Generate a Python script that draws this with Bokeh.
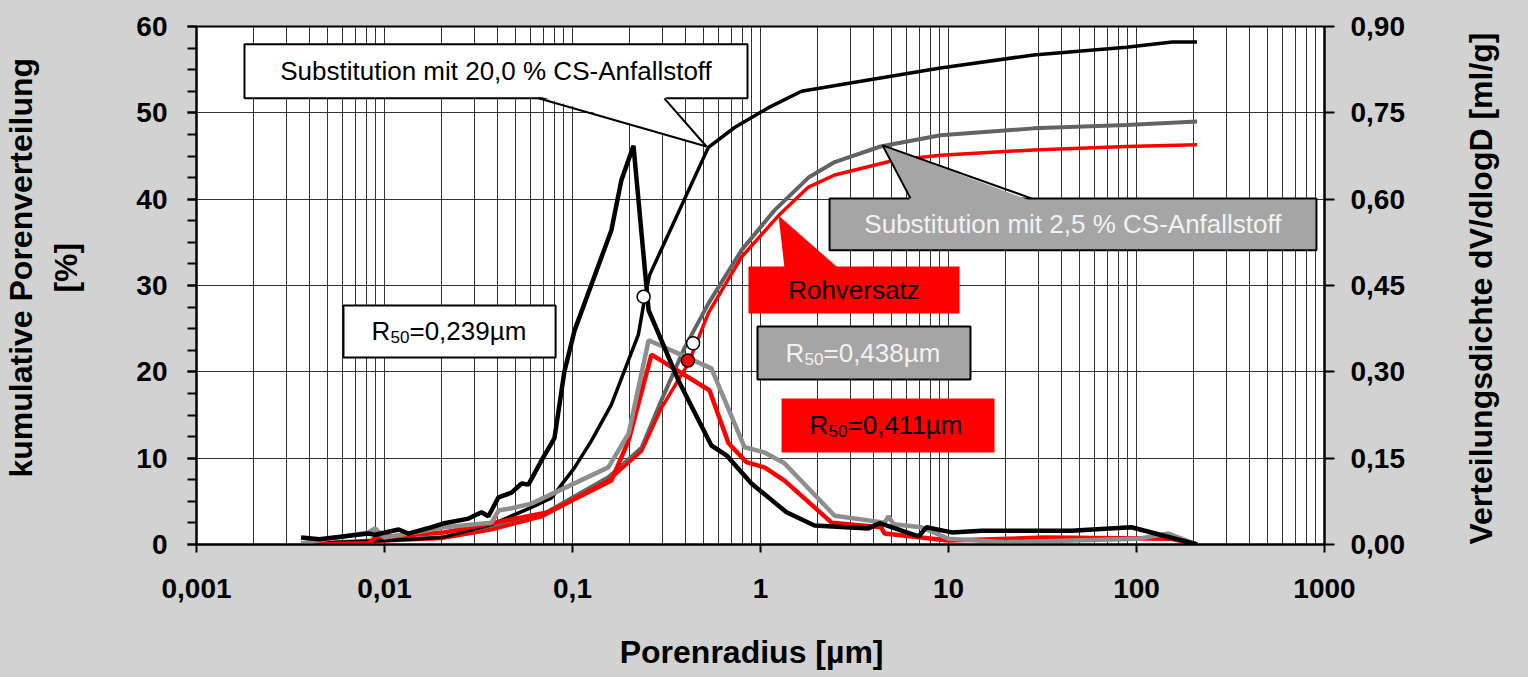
import math
from bokeh.plotting import figure
from bokeh.models import (Range1d, LinearAxis, FixedTicker, SingleIntervalTicker,
                          CustomJSTickFormatter)
from bokeh.core.properties import value
from bokeh.embed import file_html
from bokeh.resources import INLINE

# ---------------- data ----------------
# cumulative pore distribution [%] (left axis)
cum20_x = [0.0036, 0.0109, 0.0201, 0.0371, 0.0605, 0.0773, 0.1026, 0.126, 0.161, 0.224, 0.242, 0.257,
           0.528, 0.728, 1.103, 1.652, 2.90, 9.06, 28.3, 88.5, 155, 210]
cum20_y = [0.1, 0.5, 0.8, 2.3, 4.3, 5.4, 8.9, 12.0, 16.2, 24.3, 28.5, 31.2,
           46.0, 48.3, 50.6, 52.5, 53.4, 55.2, 56.7, 57.6, 58.2, 58.2]

cum25_x = [0.0036, 0.0201, 0.0371, 0.0684, 0.155, 0.233, 0.297, 0.395, 0.528, 0.793, 1.186, 1.80,
           2.48, 4.35, 9.06, 28.3, 88.5, 210]
cum25_y = [0.1, 0.8, 1.9, 3.4, 7.8, 11.2, 16.7, 22.8, 27.9, 34.1, 38.7, 42.5,
           44.3, 46.1, 47.4, 48.2, 48.6, 49.0]

cum0_x = [0.0036, 0.0201, 0.0371, 0.0684, 0.155, 0.233, 0.297, 0.414, 0.528, 0.793, 1.248, 1.80,
          2.48, 5.16, 9.06, 28.3, 88.5, 210]
cum0_y = [0.0, 0.7, 1.7, 3.2, 7.4, 10.8, 15.8, 21.0, 26.8, 33.3, 38.1, 41.4,
          42.8, 44.5, 45.1, 45.7, 46.1, 46.3]

# distribution density dV/dlogD [ml/g] (right axis)
dens20_x = [0.0036, 0.0045, 0.0082, 0.0089, 0.0119, 0.0134, 0.0178, 0.0208, 0.0280, 0.0328, 0.0357,
            0.0404, 0.0474, 0.0536, 0.0583, 0.0684, 0.0802, 0.0905, 0.1026, 0.161, 0.182, 0.211,
            0.254, 0.366, 0.548, 0.659, 0.895, 1.375, 1.937, 3.75, 4.29, 4.98, 6.92, 7.64, 10.4,
            15.0, 45.1, 94.0, 210]
dens20_y = [0.012, 0.009, 0.019, 0.017, 0.026, 0.019, 0.030, 0.037, 0.045, 0.056, 0.049,
            0.082, 0.090, 0.106, 0.104, 0.146, 0.185, 0.300, 0.372, 0.546, 0.633, 0.693,
            0.407, 0.285, 0.172, 0.155, 0.106, 0.056, 0.033, 0.028, 0.037, 0.030, 0.014, 0.030, 0.021,
            0.024, 0.024, 0.030, 0.0]

dens25_x = [0.0036, 0.0082, 0.0089, 0.0100, 0.0208, 0.0371, 0.0404, 0.0474, 0.0605, 0.155, 0.199,
            0.254, 0.548, 0.822, 1.050, 1.342, 2.48, 4.57, 4.80, 5.1, 7.17, 10.0, 19.9, 102.5, 148, 210]
dens25_y = [0.002, 0.021, 0.028, 0.012, 0.030, 0.038, 0.059, 0.063, 0.071, 0.134, 0.193,
            0.355, 0.306, 0.169, 0.160, 0.141, 0.050, 0.038, 0.049, 0.035, 0.030, 0.010, 0.004, 0.010, 0.019, 0.0]

dens0_x = [0.0036, 0.0082, 0.0089, 0.0208, 0.0371, 0.0536, 0.0745, 0.161, 0.199, 0.263, 0.535, 0.676,
           0.843, 1.050, 1.342, 2.39, 4.38, 4.57, 10.0, 32.4, 153, 210]
dens0_y = [0.0, 0.002, 0.012, 0.021, 0.037, 0.047, 0.056, 0.111, 0.181, 0.330, 0.268, 0.176,
           0.143, 0.134, 0.111, 0.038, 0.030, 0.019, 0.007, 0.012, 0.010, 0.0]

# R50 markers on the cumulative curves
r50_x = [0.239, 0.438, 0.411]
r50_y = [28.7, 23.3, 21.3]
r50_fill = ["white", "white", "#ff0000"]

x_ticks = [0.001, 0.01, 0.1, 1, 10, 100, 1000]
y_ticks_right = [0.0, 0.15, 0.30, 0.45, 0.60, 0.75, 0.90]

FONT = "Liberation Sans"
BG = "#d2d2d2"
NB = "\u00a0"

# ---------------- figure ----------------
p = figure(x_axis_type="log", x_range=Range1d(0.001, 1000), y_range=Range1d(0, 60),
           frame_width=1128, frame_height=518,
           min_border_left=195, min_border_right=205, min_border_top=26, min_border_bottom=133,
           output_backend="svg", toolbar_location=None)
p.extra_y_ranges = {"dens": Range1d(0, 0.9)}
p.background_fill_color = "white"
p.border_fill_color = BG
p.outline_line_color = "black"
p.outline_line_width = 2

# grids
grid_x = [m * 10.0 ** e for e in range(-3, 3) for m in range(1, 10)] + [1000]
p.xgrid.ticker = FixedTicker(ticks=grid_x)
p.xgrid.grid_line_color = "#333333"
p.xgrid.grid_line_width = 1
p.ygrid.grid_line_color = "#333333"
p.ygrid.grid_line_width = 1


def style_axis(ax, tick_out, standoff):
    ax.axis_line_width = 2
    ax.axis_line_color = "black"
    ax.major_tick_out = tick_out
    ax.major_tick_in = 0
    ax.major_tick_line_width = 2
    ax.major_tick_line_color = "black"
    ax.major_label_standoff = standoff
    ax.major_label_text_font = FONT
    ax.major_label_text_font_style = "bold"
    ax.major_label_text_font_size = "28px"
    ax.major_label_text_color = "black"
    ax.axis_label_text_font = FONT
    ax.axis_label_text_font_style = "bold"
    ax.axis_label_text_font_size = "32px"
    ax.axis_label_text_color = "black"


# bottom axis
xa = p.xaxis[0]
xa.ticker = FixedTicker(ticks=x_ticks, minor_ticks=[])
xa.formatter = CustomJSTickFormatter(code="return String(Number(tick.toPrecision(6))).replace('.', ',');")
style_axis(xa, 8, 26)
xa.axis_label = "Porenradius [µm]" + NB * 2
xa.axis_label_standoff = 33

# left axis
ya = p.yaxis[0]
ya.ticker = SingleIntervalTicker(interval=10, num_minor_ticks=4)
style_axis(ya, 9, 20)
ya.minor_tick_out = 9
ya.minor_tick_in = 0
ya.minor_tick_line_width = 2
ya.minor_tick_line_color = "black"
ya.axis_label = NB * 4 + "kumulative Porenverteilung\n" + NB * 4 + "[%]"
ya.axis_label_text_line_height = 1.25
ya.axis_label_standoff = 49

# right axis
ra = LinearAxis(y_range_name="dens", ticker=FixedTicker(ticks=y_ticks_right, minor_ticks=[]))
ra.formatter = CustomJSTickFormatter(code="return tick.toFixed(2).replace('.', ',');")
style_axis(ra, 10, 16)
ra.axis_label = "Verteilungsdichte dV/dlogD [ml/g]"
ra.axis_label_standoff = 73
_props = LinearAxis.properties()
if "axis_label_orientation" in _props:
    ra.axis_label_orientation = math.pi / 2
if "axis_label_align" in _props:
    ra.axis_label_align = "start"
p.add_layout(ra, "right")

# ---------------- curves ----------------
p.line(cum25_x, cum25_y, line_color="#636363", line_width=4)
p.line(cum0_x, cum0_y, line_color="#ff0000", line_width=3.5)
p.line(cum20_x, cum20_y, line_color="black", line_width=3.5)
p.line(dens0_x, dens0_y, y_range_name="dens", line_color="#ff0000", line_width=4.5)
p.line(dens25_x, dens25_y, y_range_name="dens", line_color="#8e8e8e", line_width=4.5)
p.line(dens20_x, dens20_y, y_range_name="dens", line_color="black", line_width=4.5)
p.scatter(r50_x, r50_y, size=13, fill_color=r50_fill, line_color="black", line_width=1.5)

# ---------------- annotations ----------------
def box(l, r, b, t, fill, line=None, lw=2):
    p.quad(left=[l], right=[r], bottom=[b], top=[t], fill_color=fill,
           line_color=line, line_width=lw)

def txt(x, y, s, color="black", size="26px", align="center", xo=0, yo=0):
    p.text(x=[x], y=[y], text=[s], text_font=value(FONT), text_font_size=size,
           text_align=align, text_baseline="middle", text_color=color, x_offset=xo, y_offset=yo)

# callout: Substitution 20,0 %
box(0.0018, 0.853, 51.68, 57.94, "white", "black")
p.patch([0.0659, 0.516, 0.308], [51.95, 46.1, 51.95], fill_color="white", line_color=None)
p.line([0.0659, 0.516, 0.308], [51.68, 46.1, 51.68], line_color="black", line_width=2)
txt(0.0392, 54.81, "Substitution mit 20,0 % CS-Anfallstoff")

# callout: Substitution 2,5 %
box(2.33, 906, 34.07, 40.09, "#a5a5a5", "black")
p.patch([6.28, 4.46, 27.6], [39.8, 46.23, 39.8], fill_color="#a5a5a5", line_color=None)
p.line([6.28, 4.46, 27.6], [40.09, 46.23, 40.09], line_color="black", line_width=2)
txt(45.9, 37.08, "Substitution mit 2,5 % CS-Anfallstoff", color="#f2f2f2")

# callout: Rohversatz
box(0.863, 11.45, 26.77, 32.21, "#ff0000", None)
p.patch([1.342, 1.247, 2.60], [32.0, 38.12, 32.0], fill_color="#ff0000", line_color=None)
txt(3.14, 29.49, "Rohversatz")

# R50 boxes
def r50_label(left, yc, rest, color):
    txt(left, yc, "R", color=color, align="left", xo=28)
    txt(left, yc, "50", color=color, size="17px", align="left", xo=47, yo=6)
    txt(left, yc, rest, color=color, align="left", xo=66)

box(0.00605, 0.0813, 21.67, 27.69, "white", "black")
r50_label(0.00605, 24.68, "=0,239µm", "black")
box(0.964, 13.09, 19.12, 25.26, "#a5a5a5", "black")
r50_label(0.964, 22.19, "=0,438µm", "#f2f2f2")
box(1.294, 17.57, 10.66, 16.92, "#ff0000", None)
r50_label(1.294, 13.79, "=0,411µm", "black")

html = file_html(p, INLINE)
html = html.replace("</head>",
                    "<style>html, body { background-color: %s !important; }</style></head>" % BG, 1)
open("out.html", "w").write(html)
